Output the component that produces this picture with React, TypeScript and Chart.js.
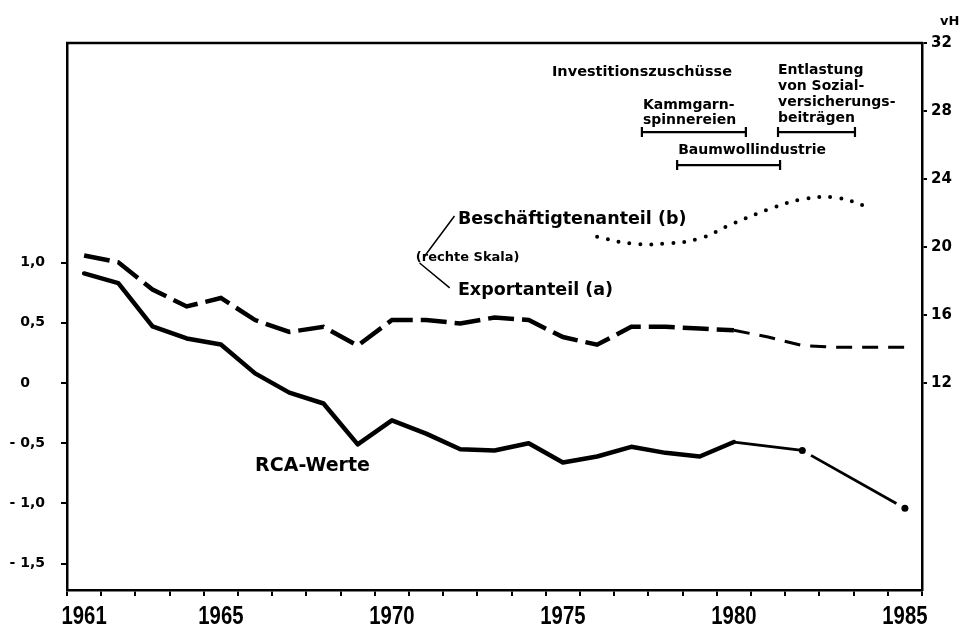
import React, { useEffect, useRef } from 'react';
import { Chart, registerables } from 'chart.js';

Chart.register(...registerables);

// ---------- data ----------
const years = [
  '1961', '1962', '1963', '1964', '1965', '1966', '1967', '1968', '1969', '1970',
  '1971', '1972', '1973', '1974', '1975', '1976', '1977', '1978', '1979', '1980',
  '1981', '1982', '1983', '1984', '1985',
];
const labelledYears = ['1961', '1965', '1970', '1975', '1980', '1985'];

// RCA-Werte (left scale)
const rcaValues = [
  0.91, 0.83, 0.47, 0.37, 0.32, 0.08, -0.08, -0.17, -0.51, -0.31,
  -0.42, -0.55, -0.56, -0.5, -0.66, -0.61, -0.53, -0.58, -0.61, -0.49,
  null, -0.56, null, null, -1.04,
];
// Exportanteil (a), vH (right scale)
const exportShare = [
  19.5, 19.1, 17.5, 16.5, 17.0, 15.7, 15.0, 15.3, 14.2, 15.7,
  15.7, 15.5, 15.85, 15.7, 14.7, 14.25, 15.3, 15.3, 15.2, 15.1,
  14.7, 14.2, 14.1, 14.1, 14.1,
];
// Beschäftigtenanteil (b), vH (right scale)
const employmentShare = [
  null, null, null, null, null, null, null, null, null, null,
  null, null, null, null, null, 20.6, 20.2, 20.2, 20.5, 21.4,
  22.2, 22.8, 22.9, 22.3, null,
];

const leftTicks = [-1.5, -1, -0.5, 0, 0.5, 1];
const leftTickLabels = ['- 1,5', '- 1,0', '- 0,5', '0\u2008\u2007', '0,5', '1,0'];
const rightTicks = [12, 16, 20, 24, 28, 32];
const rightTickLabels = ['12', '16', '20', '24', '28', '32'];

// Förderperioden (in Jahren)
const periodKammgarn = [1977.31, 1980.35];
const periodBaumwolle = [1978.34, 1981.35];
const periodEntlastung = [1981.29, 1983.54];

const FONT = '"DejaVu Sans", sans-serif';
const YEAR_FONT = '"Liberation Sans", "DejaVu Sans", sans-serif';

const annotationPlugin = {
  id: 'annotations',
  afterDraw(chart: any) {
    const { ctx, chartArea } = chart;
    const xs = chart.scales.x;
    const yl = chart.scales.yLeft;
    const yr = chart.scales.yRight;
    const X = (yr0: number) => xs.getPixelForValue(yr0 - 1961);
    const R = (v: number) => yr.getPixelForValue(v);
    const L = (v: number) => yl.getPixelForValue(v);

    ctx.save();
    // top frame line
    ctx.strokeStyle = '#000';
    ctx.lineWidth = 2.5;
    ctx.beginPath();
    ctx.moveTo(chartArea.left - 1, chartArea.top);
    ctx.lineTo(chartArea.right + 1, chartArea.top);
    ctx.stroke();

    ctx.fillStyle = '#000';
    ctx.textAlign = 'left';
    ctx.textBaseline = 'middle';

    const text = (s: string, x: number, y: number, size: number, fam = FONT) => {
      ctx.font = `bold ${size}px ${fam}`;
      ctx.fillText(s, x, y);
    };

    // year labels (narrow lettering)
    ctx.font = `bold 26px ${YEAR_FONT}`;
    ctx.textAlign = 'center';
    labelledYears.forEach((y) => {
      const idx = years.indexOf(y);
      const px = xs.getPixelForValue(idx);
      ctx.save();
      ctx.translate(px, xs.bottom - 11);
      ctx.scale(0.78, 1);
      ctx.fillText(y, 0, 0);
      ctx.restore();
    });
    ctx.textAlign = 'left';

    // vH unit label
    text('vH', yr.left + 18, chartArea.top - 21, 13);

    // period annotations
    text('Investitionszuschüsse', X(1974.68), R(30.29), 14.5);
    text('Entlastung', X(1981.29), R(30.41), 14);
    text('von Sozial-', X(1981.29), R(29.47), 14);
    text('versicherungs-', X(1981.29), R(28.53), 14);
    text('beiträgen', X(1981.29), R(27.59), 14);
    text('Kammgarn-', X(1977.34), R(28.35), 14);
    text('spinnereien', X(1977.34), R(27.47), 14);
    text('Baumwollindustrie', X(1978.37), R(25.7), 14);

    const bracket = (p: number[], v: number) => {
      const y = R(v);
      const x0 = X(p[0]);
      const x1 = X(p[1]);
      ctx.lineWidth = 2.2;
      ctx.beginPath();
      ctx.moveTo(x0, y);
      ctx.lineTo(x1, y);
      ctx.moveTo(x0, y - 5);
      ctx.lineTo(x0, y + 5);
      ctx.moveTo(x1, y - 5);
      ctx.lineTo(x1, y + 5);
      ctx.stroke();
    };
    bracket(periodKammgarn, 26.76);
    bracket(periodEntlastung, 26.76);
    bracket(periodBaumwolle, 24.82);

    // series labels
    text('Beschäftigtenanteil (b)', X(1971.93), R(21.59), 17.5);
    text('(rechte Skala)', X(1970.7), R(19.35), 13);
    text('Exportanteil (a)', X(1971.93), R(17.47), 17.5);
    text('RCA-Werte', X(1966.0), L(-0.69), 19);

    ctx.lineWidth = 1.5;
    ctx.beginPath();
    ctx.moveTo(X(1970.96), R(19.47));
    ctx.lineTo(X(1971.83), R(21.82));
    ctx.moveTo(X(1970.81), R(19.06));
    ctx.lineTo(X(1971.69), R(17.59));
    ctx.stroke();
    ctx.restore();
  },
};

export default function App() {
  const canvasRef = useRef<HTMLCanvasElement | null>(null);

  useEffect(() => {
    const canvas = canvasRef.current;
    if (!canvas) return;
    const chart = new Chart(canvas, {
      type: 'line',
      data: {
        labels: years,
        datasets: [
          {
            label: 'RCA-Werte',
            data: rcaValues,
            yAxisID: 'yLeft',
            borderColor: '#000',
            backgroundColor: '#000',
            borderWidth: 4.5,
            tension: 0,
            spanGaps: true,
            borderJoinStyle: 'round',
            borderCapStyle: 'round',
            pointRadius: (c: any) => (c.dataIndex === 21 || c.dataIndex === 24 ? 3.5 : 0),
            pointBorderWidth: 0,
            segment: {
              borderWidth: (c: any) => (c.p0DataIndex >= 19 ? 2.8 : undefined),
              borderDash: (c: any) =>
                c.p0DataIndex === 19 ? [58, 11] : c.p0DataIndex >= 21 ? [98, 10] : undefined,
              borderDashOffset: (c: any) => (c.p0DataIndex >= 21 ? 98 : undefined),
              borderCapStyle: (c: any) => (c.p0DataIndex >= 19 ? 'butt' : undefined),
            },
          },
          {
            label: 'Exportanteil (a)',
            data: exportShare,
            yAxisID: 'yRight',
            borderColor: '#000',
            borderWidth: 4.5,
            tension: 0,
            pointRadius: 0,
            borderDash: [26, 8],
            segment: {
              borderWidth: (c: any) => (c.p0DataIndex >= 19 ? 3 : undefined),
              borderDash: (c: any) => (c.p0DataIndex >= 19 ? [16, 10] : undefined),
            },
          },
          {
            label: 'Beschäftigtenanteil (b)',
            data: employmentShare,
            yAxisID: 'yRight',
            borderColor: '#000',
            borderWidth: 4,
            borderCapStyle: 'round',
            borderDash: [0, 11],
            tension: 0.4,
            pointRadius: 0,
          },
        ],
      },
      options: {
        responsive: false,
        animation: false,
        devicePixelRatio: 1,
        layout: { padding: { top: 43, left: 0, right: 0, bottom: 0 } },
        plugins: {
          legend: { display: false },
          tooltip: { enabled: false },
          title: { display: false },
        },
        scales: {
          x: {
            type: 'category',
            offset: true,
            grid: {
              offset: true,
              drawOnChartArea: false,
              drawTicks: true,
              tickLength: 6,
              color: '#000',
              lineWidth: 2,
            },
            border: { display: true, color: '#000', width: 2.5 },
            ticks: {
              display: false,
              autoSkip: false,
              maxRotation: 0,
              minRotation: 0,
            },
            afterFit: (s: any) => {
              s.height = 38;
            },
          },
          yLeft: {
            type: 'linear',
            position: 'left',
            min: -1.719,
            max: 2.824,
            grid: { drawOnChartArea: false, tickLength: 6, color: '#000', lineWidth: 2 },
            border: { display: true, color: '#000', width: 2.5 },
            afterBuildTicks: (s: any) => {
              s.ticks = leftTicks.map((v) => ({ value: v }));
            },
            ticks: {
              padding: 16,
              color: '#000',
              font: { family: FONT, size: 14, weight: 'bold' },
              callback: (v: any) => leftTickLabels[leftTicks.indexOf(Number(v))] ?? '',
            },
            afterFit: (s: any) => {
              s.width = 67;
            },
          },
          yRight: {
            type: 'linear',
            position: 'right',
            min: -0.18,
            max: 32,
            grid: { drawOnChartArea: false, tickLength: 5, color: '#000', lineWidth: 2 },
            border: { display: true, color: '#000', width: 2.5 },
            afterBuildTicks: (s: any) => {
              s.ticks = rightTicks.map((v) => ({ value: v }));
            },
            ticks: {
              padding: 4,
              color: '#000',
              font: { family: FONT, size: 15, weight: 'bold' },
              callback: (v: any) => rightTickLabels[rightTicks.indexOf(Number(v))] ?? '',
            },
            afterFit: (s: any) => {
              s.width = 41;
            },
          },
        },
      },
      plugins: [annotationPlugin],
    } as any);
    return () => chart.destroy();
  }, []);

  return (
    <div style={{ position: 'fixed', left: 0, top: 0, width: 963, height: 628, background: '#fff' }}>
      <canvas ref={canvasRef} width={963} height={628} style={{ width: 963, height: 628, display: 'block' }} />
    </div>
  );
}
